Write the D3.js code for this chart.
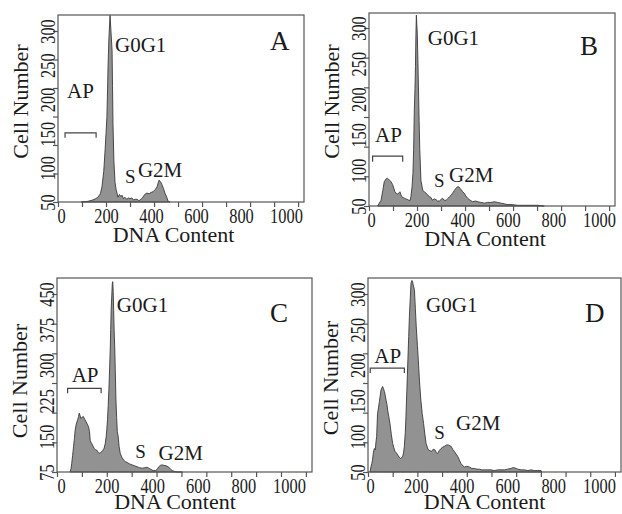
<!DOCTYPE html>
<html>
<head>
<meta charset="utf-8">
<script src="https://cdn.jsdelivr.net/npm/d3@7"></script>
<style>
body { margin: 0; background: #fff; }
text { font-family: "Liberation Serif", "DejaVu Serif Condensed", "DejaVu Serif", serif; fill: #1a1a1a; }
</style>
</head>
<body>
<svg id="chart" width="622" height="514"></svg>
<script>
// tick labels
var xTickLabels = [0, 200, 400, 600, 800, 1000];
var yTicks50 = [50, 100, 150, 200, 250, 300];
var yTicks75 = [75, 150, 225, 300, 375, 450];

// A
var dnaA = [90, 120, 142, 155, 164, 175, 182, 190, 196, 200, 204, 207, 209, 213, 218, 222, 227, 229, 231, 235,
  240, 245, 249, 253, 260, 266, 271, 278, 284, 292, 300, 307, 315, 322, 330, 338, 346, 352, 358, 364,
  372, 382, 392, 400, 409, 418, 427, 432, 436, 441, 445, 449, 455, 462, 470, 476, 484];
var cellsA = [50, 51, 53, 55, 57, 62, 72, 95, 126, 150, 174, 215, 247, 290, 323, 300, 272, 220, 165, 110,
  79, 68, 63, 57, 61, 58, 60, 55, 57, 54, 56, 55, 56, 53, 54, 54, 52, 53, 55, 57,
  61, 63, 62, 64, 65, 68, 72, 78, 82, 80, 78, 75, 70, 63, 57, 51, 50];

// B
var dnaB = [29, 44, 52, 58, 66, 72, 76, 82, 88, 95, 100, 105, 110, 115, 120, 124, 127, 131, 135, 140,
  146, 153, 161, 166, 172, 175, 180, 184, 187, 190, 193, 195, 197, 199, 201, 203, 206, 208, 211, 214,
  219, 227, 234, 241, 248, 256, 263, 270, 277, 285, 292, 300, 307, 314, 321, 329, 336, 344, 351, 358,
  366, 373, 379, 385, 390, 395, 402, 409, 416, 424, 435, 446, 457, 468, 482, 497, 511, 526, 541, 556,
  570, 585, 600, 614, 644, 673, 702, 731, 760];
var cellsB = [50, 58, 72, 84, 88, 89, 88, 86, 84, 80, 75, 70, 68, 67, 67, 69, 70, 66, 63, 62,
  61, 60, 59, 58, 58, 63, 77, 96, 129, 185, 215, 246, 290, 318, 305, 292, 250, 218, 170, 129,
  86, 72, 70, 68, 66, 63, 62, 58, 60, 59, 57, 57, 59, 61, 58, 58, 60, 63, 65, 68,
  72, 75, 77, 77, 75, 73, 70, 68, 64, 61, 58, 56, 57, 56, 55, 54, 55, 55, 56, 55,
  54, 53, 52, 52, 51, 51, 51, 51, 50];

// C
var dnaC = [40, 44, 47, 51, 55, 59, 62, 67, 73, 77, 80, 84, 87, 92, 98, 104, 110, 115, 121, 125,
  128, 131, 135, 140, 145, 151, 157, 162, 167, 173, 179, 184, 189, 194, 198, 201, 204, 207, 210, 213,
  216, 218, 220, 223, 225, 227, 229, 231, 233, 236, 238, 241, 244, 247, 251, 255, 260, 267, 275, 282,
  290, 301, 312, 323, 334, 345, 356, 367, 378, 389, 400, 407, 414, 421, 429, 436, 443, 451, 462, 473,
  480, 488, 499, 510, 521, 532];
var cellsC = [75, 82, 93, 110, 128, 146, 163, 176, 185, 192, 199, 193, 188, 190, 192, 186, 181, 176, 170, 160,
  142, 138, 135, 130, 125, 122, 121, 117, 114, 116, 118, 121, 125, 135, 149, 165, 185, 215, 248, 290,
  332, 375, 416, 450, 472, 476, 455, 416, 375, 332, 290, 227, 190, 160, 149, 128, 114, 106, 100, 97,
  95, 92, 90, 88, 86, 84, 83, 84, 85, 82, 79, 78, 78, 80, 86, 89, 90, 89, 88, 85,
  81, 78, 76, 75, 75, 75];

// D
var dnaD = [0, 4, 8, 11, 15, 19, 23, 26, 29, 33, 37, 41, 45, 48, 52, 55, 59, 63, 67, 70,
  74, 77, 82, 87, 93, 99, 104, 109, 115, 121, 127, 133, 138, 143, 147, 150, 154, 157, 161, 165,
  169, 172, 176, 179, 183, 186, 190, 194, 198, 202, 207, 211, 216, 222, 228, 234, 240, 245, 250, 255,
  262, 269, 276, 284, 290, 295, 302, 310, 318, 325, 334, 342, 348, 354, 361, 368, 376, 383, 390, 397,
  405, 412, 423, 434, 445, 456, 467, 477, 488, 499, 514, 528, 543, 557, 572, 587, 601, 616, 623, 630,
  638, 645, 660, 674, 689, 703, 718, 733, 747, 750];
var cellsD = [50, 57, 62, 67, 78, 83, 81, 92, 100, 132, 140, 149, 158, 165, 168, 170, 167, 163, 157, 151,
  145, 137, 128, 118, 103, 90, 84, 79, 77, 74, 71, 69, 70, 72, 78, 86, 105, 128, 165, 203,
  240, 268, 295, 315, 319, 317, 311, 306, 280, 254, 228, 207, 178, 151, 132, 118, 102, 90, 85, 81,
  80, 79, 82, 81, 77, 76, 80, 83, 85, 86, 88, 88, 87, 86, 82, 79, 75, 72, 67, 62,
  59, 57, 58, 57, 55, 55, 54, 54, 53, 53, 53, 53, 52, 53, 53, 53, 54, 55, 56, 56,
  55, 54, 53, 53, 52, 53, 52, 52, 52, 50];

// layout of the four panels (pixels), label anchors in data units
var panels = [
  {name: "A", dna: dnaA, cells: cellsA, yTicks: yTicks50,
   left: 58, top: 15, right: 304, bottom: 202, x0: 61, x1: 286, yTop: 31, titleY: -7, titleDy: 40,
   ap: [27, 202], bracket: [18, 156, 151, 144], g0g1: [240, 269], s: [284, 78], g2m: [342, 87], tag: [929, 272]},
  {name: "B", dna: dnaB, cells: cellsB, yTicks: yTicks50,
   left: 369, top: 13, right: 615, bottom: 206, x0: 371, x1: 599, yTop: 28, titleY: -8, titleDy: 40,
   ap: [18, 140], bracket: [7, 139, 120, 112], g0g1: [249, 276], s: [276, 77], g2m: [342, 84], tag: [917, 262]},
  {name: "C", dna: dnaC, cells: cellsC, yTicks: yTicks75,
   left: 57, top: 278, right: 312, bottom: 472, x0: 61, x1: 289, yTop: 294, titleY: 6, titleDy: 37,
   ap: [47, 265], bracket: [29, 176, 251, 241], g0g1: [245, 413], s: [326, 104], g2m: [428, 100], tag: [917, 392]},
  {name: "D", dna: dnaD, cells: cellsD, yTicks: yTicks50,
   left: 368, top: 278, right: 621, bottom: 472, x0: 370, x1: 599, yTop: 294, titleY: 3, titleDy: 37,
   ap: [19, 203], bracket: [1, 150, 196, 189], g0g1: [245, 275], s: [281, 97], g2m: [376, 109], tag: [939, 261]}
];

var svg = d3.select("#chart");

panels.forEach(function(p) {
  var g = svg.append("g");
  var lo = p.yTicks[0], hi = p.yTicks[p.yTicks.length - 1];

  var x = d3.scaleLinear().domain([0, 1000]).range([p.x0, p.x1]);
  var y = d3.scaleLinear().domain([lo, hi]).range([p.bottom, p.yTop]);
  // tick marks are spaced on their own grid
  var xt = d3.scaleLinear().domain([0, 10]).range([p.left, p.left + (p.right - p.left) * 0.976]);
  var yt = d3.scaleLinear().domain([0, 6]).range([p.bottom, p.yTop]);

  // histogram
  var pts = d3.zip(p.dna, p.cells);
  var area = d3.area()
    .x(function(d) { return x(d[0]); })
    .y0(y(lo))
    .y1(function(d) { return y(d[1]); });
  g.append("path")
    .datum(pts)
    .attr("d", area)
    .attr("fill", "#929292")
    .attr("stroke", "#3a3a3a")
    .attr("stroke-width", 0.9);

  // frame
  g.append("rect")
    .attr("x", p.left).attr("y", p.top)
    .attr("width", p.right - p.left).attr("height", p.bottom - p.top)
    .attr("fill", "none").attr("stroke", "#555").attr("stroke-width", 1.2);

  // tick marks
  var xm = g.append("g").attr("transform", "translate(0," + p.bottom + ")")
    .call(d3.axisBottom(xt).ticks(10).tickSize(5).tickSizeOuter(0).tickFormat(""));
  xm.select(".domain").remove();
  xm.selectAll("line").attr("stroke", "#555").attr("stroke-width", 1.2);

  var ym = g.append("g").attr("transform", "translate(" + p.left + ",0)")
    .call(d3.axisLeft(yt).ticks(6).tickSize(5).tickSizeOuter(0).tickFormat(""));
  ym.select(".domain").remove();
  ym.selectAll("line").attr("stroke", "#555").attr("stroke-width", 1.2);

  // tick labels (narrow serif digits)
  var xl = g.append("g").attr("transform", "translate(0," + p.bottom + ")")
    .call(d3.axisBottom(x).tickValues(xTickLabels).tickSize(0).tickFormat(d3.format("d")));
  xl.select(".domain").remove();
  xl.selectAll("text")
    .attr("dy", null).attr("y", null)
    .attr("transform", "translate(0,21) scale(0.82,1)")
    .style("font-size", "20px").attr("fill", "#1a1a1a");

  var yl = g.append("g").attr("transform", "translate(" + p.left + ",0)")
    .call(d3.axisLeft(y).tickValues(p.yTicks).tickSize(0).tickFormat(d3.format("d")));
  yl.select(".domain").remove();
  yl.selectAll("text")
    .attr("x", null).attr("dy", null)
    .attr("transform", "translate(-3,0) rotate(-90) scale(0.82,1)")
    .attr("text-anchor", "middle")
    .style("font-size", "20px").attr("fill", "#1a1a1a");

  // axis titles
  g.append("text")
    .attr("x", (p.x0 + p.x1) / 2).attr("y", p.bottom + p.titleDy)
    .attr("text-anchor", "middle").style("font-size", "22px")
    .text("DNA Content");
  g.append("text")
    .attr("transform", "translate(" + (p.left - 30) + "," + ((p.top + p.bottom) / 2 + p.titleY) + ") rotate(-90)")
    .attr("text-anchor", "middle").style("font-size", "22px")
    .text("Cell Number");

  // AP bracket
  var b = p.bracket;
  g.append("path")
    .attr("d", "M" + x(b[0]) + "," + y(b[3]) + "V" + y(b[2]) + "H" + x(b[1]) + "V" + y(b[3]))
    .attr("fill", "none").attr("stroke", "#444").attr("stroke-width", 1.2);

  // phase labels
  var notes = [["AP", p.ap, 21], ["G0G1", p.g0g1, 21], ["S", p.s, 19], ["G2M", p.g2m, 21], [p.name, p.tag, 27]];
  notes.forEach(function(n) {
    g.append("text")
      .attr("x", x(n[1][0])).attr("y", y(n[1][1]))
      .style("font-size", n[2] + "px")
      .text(n[0]);
  });
});
</script>
</body>
</html>
